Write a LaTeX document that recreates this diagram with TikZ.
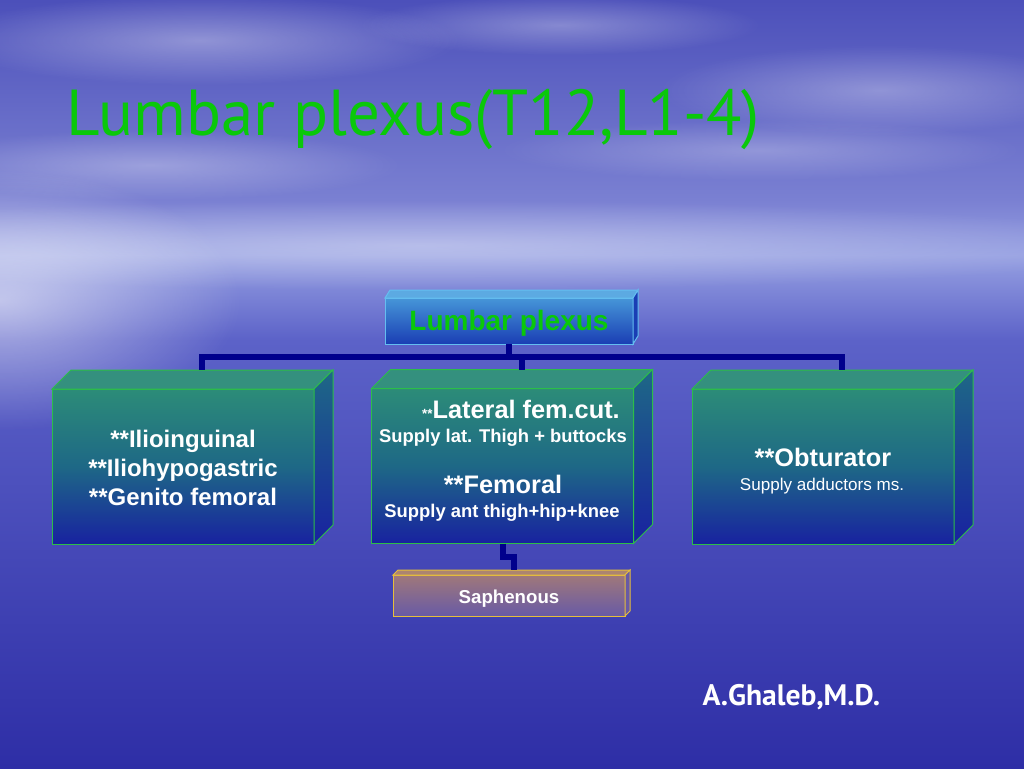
\documentclass[tikz,border=0pt]{standalone}
\usepackage{fontspec}
\setmainfont{Liberation Sans}
\newfontfamily\slidefont{PT Sans}
\usetikzlibrary{fadings}

\definecolor{skytop}{RGB}{76,80,186}
\definecolor{skymid}{RGB}{122,128,210}
\definecolor{horizon}{RGB}{150,160,226}
\definecolor{seatop}{RGB}{92,98,200}
\definecolor{seabot}{RGB}{46,46,166}
\definecolor{titlegreen}{RGB}{10,200,10}
\definecolor{plextop}{RGB}{70,150,216}
\definecolor{plexbot}{RGB}{26,62,180}
\definecolor{plexlid}{RGB}{92,170,226}
\definecolor{plexedge}{RGB}{100,190,240}
\definecolor{nervetop}{RGB}{44,140,120}
\definecolor{nervemid}{RGB}{30,104,134}
\definecolor{nervebot}{RGB}{24,34,160}
\definecolor{nervelid}{RGB}{52,144,126}
\definecolor{nerveedge}{RGB}{44,190,72}
\definecolor{saphtop}{RGB}{160,120,122}
\definecolor{saphbot}{RGB}{104,90,166}
\definecolor{saphlid}{RGB}{172,132,112}
\definecolor{saphedge}{RGB}{230,190,60}
\definecolor{trunkblue}{RGB}{0,0,140}

\tikzfading[name=glowfade,inner color=transparent!0,outer color=transparent!100]
\tikzset{every picture/.style={line width=0.75pt}}

\begin{document}
\begin{tikzpicture}[x=0.75pt,y=0.75pt,yscale=-1,xscale=1,
  plexbox/.style={draw=plexedge,top color=plextop,bottom color=plexbot,minimum width=186pt,minimum height=34.5pt,inner sep=0pt,outer sep=0pt},
  nervebox/.style={draw=nerveedge,top color=nervetop,bottom color=nervebot,middle color=nervemid,minimum width=196.5pt,minimum height=116.25pt,inner sep=0pt,outer sep=0pt},
  saphbox/.style={draw=saphedge,top color=saphtop,bottom color=saphbot,minimum width=174pt,minimum height=30.75pt,inner sep=0pt,outer sep=0pt},
  trunk/.style={draw=trunkblue,line width=4.5pt},
  nervehead/.style={anchor=base,inner sep=0pt,text=white,font=\fontsize{18}{22}\selectfont\bfseries},
  nervesub/.style={anchor=base,inner sep=0pt,text=white,font=\fontsize{13.8}{16}\selectfont\bfseries}]
\useasboundingbox (0,0) rectangle (1024,768);

%Background sky and sea
\fill[top color=skytop,bottom color=skymid] (0,0) rectangle (1024,200);
\fill[top color=skymid,bottom color=horizon] (0,200) rectangle (1024,255);
\fill[top color=horizon,bottom color=seatop] (0,255) rectangle (1024,340);
\fill[top color=seatop,bottom color=seabot] (0,340) rectangle (1024,768);
%clouds
\fill[white,opacity=.35,path fading=glowfade] (200,40) ellipse (260 and 45);
\fill[white,opacity=.30,path fading=glowfade] (560,25) ellipse (200 and 30);
\fill[white,opacity=.30,path fading=glowfade] (880,90) ellipse (220 and 45);
\fill[white,opacity=.25,path fading=glowfade] (760,150) ellipse (260 and 30);
\fill[white,opacity=.30,path fading=glowfade] (150,165) ellipse (250 and 35);
%glow on the horizon
\fill[white,opacity=.35,path fading=glowfade] (420,245) ellipse (760 and 45);
\fill[white,opacity=.55,path fading=glowfade] (0,300) ellipse (240 and 130);

% Title
\node[anchor=base west,inner sep=0pt,text=titlegreen,font=\slidefont\fontsize{48.7}{56}\selectfont] (title) at (66,135) {Lumbar plexus(T12,L1-4)};

%Boxes
\node[plexbox] (plexus) at (509,321) {};
\filldraw[draw=plexedge,fill=plexlid] (plexus.north west) -- ++(5,-8) -- ([shift={(5,-8)}]plexus.north east) -- (plexus.north east) -- cycle;
\filldraw[draw=plexedge,fill=plexbot] (plexus.north east) -- ++(5,-8) -- ([shift={(5,-8)}]plexus.south east) -- (plexus.south east) -- cycle;

\node[nervebox] (ilio) at (183,466.5) {};
\filldraw[draw=nerveedge,fill=nervelid] (ilio.north west) -- ++(19,-19) -- ([shift={(19,-19)}]ilio.north east) -- (ilio.north east) -- cycle;
\path[draw=nerveedge,top color=nervemid,bottom color=nervebot] (ilio.north east) -- ++(19,-19) -- ([shift={(19,-19)}]ilio.south east) -- (ilio.south east) -- cycle;

\node[nervebox] (femo) at (502.5,466) {};
\filldraw[draw=nerveedge,fill=nervelid] (femo.north west) -- ++(19,-19) -- ([shift={(19,-19)}]femo.north east) -- (femo.north east) -- cycle;
\path[draw=nerveedge,top color=nervemid,bottom color=nervebot] (femo.north east) -- ++(19,-19) -- ([shift={(19,-19)}]femo.south east) -- (femo.south east) -- cycle;

\node[nervebox] (obtu) at (823,466.5) {};
\filldraw[draw=nerveedge,fill=nervelid] (obtu.north west) -- ++(19,-19) -- ([shift={(19,-19)}]obtu.north east) -- (obtu.north east) -- cycle;
\path[draw=nerveedge,top color=nervemid,bottom color=nervebot] (obtu.north east) -- ++(19,-19) -- ([shift={(19,-19)}]obtu.south east) -- (obtu.south east) -- cycle;

\node[saphbox] (saph) at (509,595.5) {};
\filldraw[draw=saphedge,fill=saphlid] (saph.north west) -- ++(5,-5) -- ([shift={(5,-5)}]saph.north east) -- (saph.north east) -- cycle;
\filldraw[draw=saphedge,fill=saphbot] (saph.north east) -- ++(5,-5) -- ([shift={(5,-5)}]saph.south east) -- (saph.south east) -- cycle;

%Connectors
\draw[trunk] (plexus.south) -- ++(0,13) coordinate (bus);
\draw[trunk] ([shift={(19,-19)}]ilio.north) |- (bus) -| ([shift={(19,-19)}]obtu.north);
\draw[trunk] (bus) -| ([shift={(19,-19)}]femo.north);
\draw[trunk] (femo.south) -- ++(0,13) -| ([shift={(5,-5)}]saph.north);

% Text Node
\node[anchor=base,inner sep=0pt,text=titlegreen,font=\fontsize{21}{25}\selectfont\bfseries] (plexusText) at (509,330) {Lumbar plexus};
% Text Node
\node[nervehead] (ilioA) at (183,447) {**Ilioinguinal};
\node[nervehead] (ilioB) at (183,476) {**Iliohypogastric};
\node[nervehead] (ilioC) at (183,505.5) {**Genito femoral};
% Text Node
\node[nervehead,font=\fontsize{19}{22}\selectfont\bfseries] (lateral) at (521,418) {{\fontsize{10}{12}\selectfont **}Lateral fem.cut.};
\node[nervesub] (lateralSub) at (503,442) {Supply lat. Thigh + buttocks};
\node[nervehead,font=\fontsize{19}{22}\selectfont\bfseries] (femoral) at (503,493) {**Femoral};
\node[nervesub] (femoralSub) at (502,517) {Supply ant thigh+hip+knee};
% Text Node
\node[nervehead,font=\fontsize{19}{22}\selectfont\bfseries] (obturator) at (823,466.5) {**Obturator};
\node[nervesub,font=\fontsize{12.8}{15}\selectfont] (obturatorSub) at (822,490) {Supply adductors ms.};
% Text Node
\node[nervesub,font=\fontsize{14}{16}\selectfont\bfseries] (saphText) at (509,603) {Saphenous};
% Text Node
\node[anchor=base west,inner sep=0pt,text=white,font=\slidefont\fontsize{22.2}{26}\selectfont\bfseries] (author) at (702,705) {A.Ghaleb,M.D.};

\end{tikzpicture}
\end{document}
